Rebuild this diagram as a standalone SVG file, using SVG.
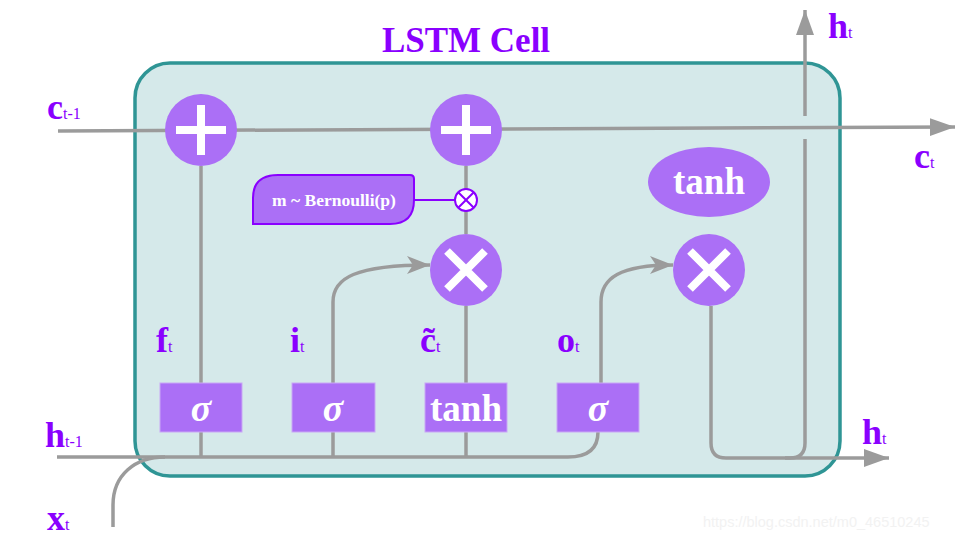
<svg xmlns="http://www.w3.org/2000/svg" width="960" height="540" viewBox="0 0 960 540">
<defs>
<style>
.wire{fill:none;stroke:#9b9b9b;stroke-width:3.5}
.op{fill:#ab6ff6}
.sym{stroke:#fff;stroke-width:8;fill:none}
.box{fill:#ab6ff6;stroke:#c9a8f5;stroke-width:1}
.btxt{font-family:"Liberation Serif",serif;font-weight:bold;fill:#fff;text-anchor:middle}
.lbl{font-family:"Liberation Serif",serif;font-weight:bold;fill:#8a00ff;font-size:36px}
.sub{font-size:16px;font-weight:normal}
</style>
<marker id="tri" markerUnits="userSpaceOnUse" markerWidth="26" markerHeight="20" refX="25" refY="9" orient="auto">
<path d="M0,0 L25,9 L0,18 z" fill="#9b9b9b"/>
</marker>
<marker id="notch" markerUnits="userSpaceOnUse" markerWidth="24" markerHeight="20" refX="23" refY="9" orient="auto">
<path d="M0,0 L23,9 L0,18 L6,9 z" fill="#9b9b9b"/>
</marker>
</defs>
<rect width="960" height="540" fill="#fff"/>
<g id="cell">
<rect x="135" y="63" width="705" height="413" rx="35" ry="35" fill="#d5e9ea" stroke="#2f9595" stroke-width="3.5"/>
</g>
<text x="466" y="52" text-anchor="middle" font-family="'Liberation Serif',serif" font-weight="bold" font-size="35" fill="#8a00ff">LSTM Cell</text>
<g id="connectors">
<path class="wire" d="M58,131 L955,127" marker-end="url(#tri)"/>
<path class="wire" d="M201,166 V457"/>
<path class="wire" d="M466,166 V189"/>
<path class="wire" d="M466,211 V234"/>
<path class="wire" d="M466,306 V457"/>
<path class="wire" d="M57,457 H568 Q598,457 598,432"/>
<path class="wire" d="M113,527 V505 C113,475 135,457 165,457"/>
<path class="wire" d="M333,457 V302 C333,278 355,265 430,265" marker-end="url(#notch)"/>
<path class="wire" d="M601,383 V302 C601,278 620,265 673,265" marker-end="url(#notch)"/>
<path class="wire" d="M711,306 V443 Q711,458 726,458 H790 Q805,458 805,443 V139"/>
<path class="wire" d="M805,116 L805,10" marker-end="url(#tri)"/>
<path class="wire" d="M785,458 L889,458" marker-end="url(#tri)"/>
<path d="M414,200 H455" fill="none" stroke="#8a00ff" stroke-width="2"/>
</g>
<g id="plus1"><circle class="op" cx="201" cy="130" r="36"/><path class="sym" d="M176,130 H226 M201,105 V155"/></g>
<g id="plus2"><circle class="op" cx="466" cy="130" r="36"/><path class="sym" d="M441,130 H491 M466,105 V155"/></g>
<g id="mult1"><circle class="op" cx="466" cy="270" r="36"/><path class="sym" d="M447,251 L485,289 M485,251 L447,289"/></g>
<g id="mult2"><circle class="op" cx="709" cy="270" r="36"/><path class="sym" d="M690,251 L728,289 M728,251 L690,289"/></g>
<g id="dropout">
<circle cx="466" cy="200" r="11" fill="#fff" stroke="#8a00ff" stroke-width="2"/>
<path d="M458.2,192.2 L473.8,207.8 M473.8,192.2 L458.2,207.8" stroke="#8a00ff" stroke-width="2"/>
</g>
<g id="bernoulli">
<path d="M253,224 V198 Q253,175 278,175 H410 Q414,175 414,179 V200 Q414,224 390,224 Z" fill="#ab6ff6" stroke="#8a00ff" stroke-width="2"/>
<text class="btxt" x="334" y="206" font-size="17.5">m ~ Bernoulli(p)</text>
</g>
<g id="tanh-out">
<ellipse class="op" cx="709" cy="182" rx="61" ry="35"/>
<text class="btxt" x="709" y="194" font-size="37">tanh</text>
</g>
<g id="gate-f"><rect class="box" x="160" y="383" width="82" height="49"/><text class="btxt" x="201" y="421" font-size="38" font-style="italic">σ</text></g>
<g id="gate-i"><rect class="box" x="292" y="383" width="83" height="49"/><text class="btxt" x="333" y="421" font-size="38" font-style="italic">σ</text></g>
<g id="gate-c"><rect class="box" x="425" y="383" width="82" height="49"/><text class="btxt" x="466" y="421" font-size="37">tanh</text></g>
<g id="gate-o"><rect class="box" x="557" y="383" width="82" height="49"/><text class="btxt" x="598" y="421" font-size="38" font-style="italic">σ</text></g>
<g id="labels">
<text class="lbl" x="47" y="119">c<tspan class="sub">t-1</tspan></text>
<text class="lbl" x="45" y="447">h<tspan class="sub">t-1</tspan></text>
<text class="lbl" x="47" y="530">x<tspan class="sub">t</tspan></text>
<text class="lbl" x="156" y="352">f<tspan class="sub">t</tspan></text>
<text class="lbl" x="290" y="352">i<tspan class="sub">t</tspan></text>
<text class="lbl" x="420" y="352">c̃<tspan class="sub">t</tspan></text>
<text class="lbl" x="557" y="352">o<tspan class="sub">t</tspan></text>
<text class="lbl" x="828" y="38">h<tspan class="sub">t</tspan></text>
<text class="lbl" x="914" y="168">c<tspan class="sub">t</tspan></text>
<text class="lbl" x="862" y="444">h<tspan class="sub">t</tspan></text>
</g>
<text x="703" y="527" font-family="'Liberation Sans',sans-serif" font-size="14.5" fill="#f2f2f2">https://blog.csdn.net/m0_46510245</text>
</svg>
